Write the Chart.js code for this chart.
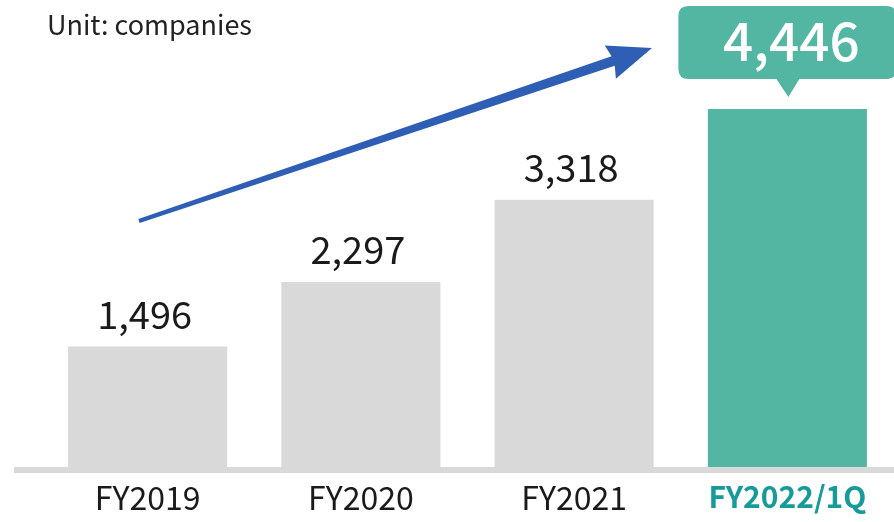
<!DOCTYPE html>
<html>
<head>
<meta charset="utf-8">
<script src="https://cdn.jsdelivr.net/npm/chart.js@4/dist/chart.umd.min.js"></script>
<style>
  html, body { margin: 0; padding: 0; background: #ffffff; overflow: hidden; }
  #wrap { position: relative; width: 894px; height: 522px; }
</style>
</head>
<body>
<div id="wrap"><canvas id="c" width="894" height="522"></canvas></div>
<script>
const categories = ["FY2019", "FY2020", "FY2021", "FY2022/1Q"];
const companies = [1496, 2297, 3318, 4446];
const valueLabels = ["1,496", "2,297", "3,318", "4,446"];
const unitLabel = "Unit: companies";

const GRAY = "#d9d9d9";
const TEAL = "#52b6a3";
const TEAL_TEXT = "#179a9a";
const BLUE = "#2f5fb4";
const FONT = "'Noto Sans CJK JP', 'Noto Sans', sans-serif";

const barColors = companies.map((v, i) => i === companies.length - 1 ? TEAL : GRAY);

const decor = {
  id: "decor",
  beforeDatasetsDraw(chart) {
    const ctx = chart.ctx;
    const area = chart.chartArea;
    ctx.save();
    ctx.fillStyle = GRAY;
    ctx.fillRect(14, area.bottom, chart.width - 14, 6);
    ctx.restore();
  },
  afterDatasetsDraw(chart) {
    const ctx = chart.ctx;
    const meta = chart.getDatasetMeta(0);
    ctx.save();
    // unit label
    ctx.fillStyle = "#222";
    ctx.font = "400 27px " + FONT;
    ctx.textAlign = "left";
    ctx.textBaseline = "middle";
    ctx.fillText(unitLabel, 47, 25);

    // value labels for gray bars
    ctx.font = "400 38px " + FONT;
    ctx.textAlign = "center";
    ctx.textBaseline = "alphabetic";
    meta.data.forEach((bar, i) => {
      if (i === meta.data.length - 1) return;
      ctx.fillStyle = "#1a1a1a";
      ctx.fillText(valueLabels[i], bar.x - 3, bar.y - 18);
    });

    // callout box for last bar
    const last = meta.data[meta.data.length - 1];
    const bw = 218, bh = 73, r = 10;
    const bx = last.x - bw / 2, by = 6;
    ctx.fillStyle = TEAL;
    ctx.beginPath();
    ctx.moveTo(bx + r, by);
    ctx.lineTo(bx + bw - r, by);
    ctx.quadraticCurveTo(bx + bw, by, bx + bw, by + r);
    ctx.lineTo(bx + bw, by + bh - r);
    ctx.quadraticCurveTo(bx + bw, by + bh, bx + bw - r, by + bh);
    ctx.lineTo(last.x + 12, by + bh);
    ctx.lineTo(last.x + 1, by + bh + 18);
    ctx.lineTo(last.x - 11, by + bh);
    ctx.lineTo(bx + r, by + bh);
    ctx.quadraticCurveTo(bx, by + bh, bx, by + bh - r);
    ctx.lineTo(bx, by + r);
    ctx.quadraticCurveTo(bx, by, bx + r, by);
    ctx.closePath();
    ctx.fill();
    ctx.fillStyle = "#ffffff";
    ctx.font = "500 53px " + FONT;
    ctx.textAlign = "center";
    ctx.textBaseline = "middle";
    ctx.fillText(valueLabels[valueLabels.length - 1], last.x + 4, by + bh / 2 - 2);

    // trend arrow (tapered)
    const sx = 139, sy = 221, tx = 652, ty = 48;
    const dx = tx - sx, dy = ty - sy, L = Math.hypot(dx, dy);
    const ux = dx / L, uy = dy / L, nx = -uy, ny = ux;
    const headLen = 44, headHalf = 17.5;
    const bxc = tx - ux * headLen, byc = ty - uy * headLen;
    const w0 = 2, w1 = 5;
    ctx.fillStyle = BLUE;
    ctx.beginPath();
    ctx.moveTo(sx + nx * w0, sy + ny * w0);
    ctx.lineTo(bxc + nx * w1 + ux * 3, byc + ny * w1 + uy * 3);
    ctx.lineTo(bxc + nx * headHalf, byc + ny * headHalf);
    ctx.lineTo(tx, ty);
    ctx.lineTo(bxc - nx * headHalf, byc - ny * headHalf);
    ctx.lineTo(bxc - nx * w1 + ux * 3, byc - ny * w1 + uy * 3);
    ctx.lineTo(sx - nx * w0, sy - ny * w0);
    ctx.closePath();
    ctx.fill();
    ctx.restore();
  }
};

new Chart(document.getElementById("c"), {
  type: "bar",
  data: {
    labels: categories,
    datasets: [{
      data: companies,
      backgroundColor: barColors,
      borderWidth: 0,
      barPercentage: 0.746,
      categoryPercentage: 1.0
    }]
  },
  options: {
    responsive: false,
    animation: false,
    devicePixelRatio: 1,
    layout: { padding: { left: 41, right: 0, top: 24, bottom: 0 } },
    plugins: { legend: { display: false }, tooltip: { enabled: false } },
    scales: {
      x: {
        grid: { display: false, drawTicks: false },
        border: { display: false },
        afterFit: (scale) => { scale.height = 55; },
        ticks: {
          padding: 12,
          color: (c) => c.index === categories.length - 1 ? TEAL_TEXT : "#1a1a1a",
          font: (c) => c.index === categories.length - 1
            ? { family: FONT, size: 30, weight: "bold" }
            : { family: FONT, size: 32, weight: "normal" }
        }
      },
      y: {
        display: false,
        min: 0,
        max: 5500
      }
    }
  },
  plugins: [decor]
});
</script>
</body>
</html>
